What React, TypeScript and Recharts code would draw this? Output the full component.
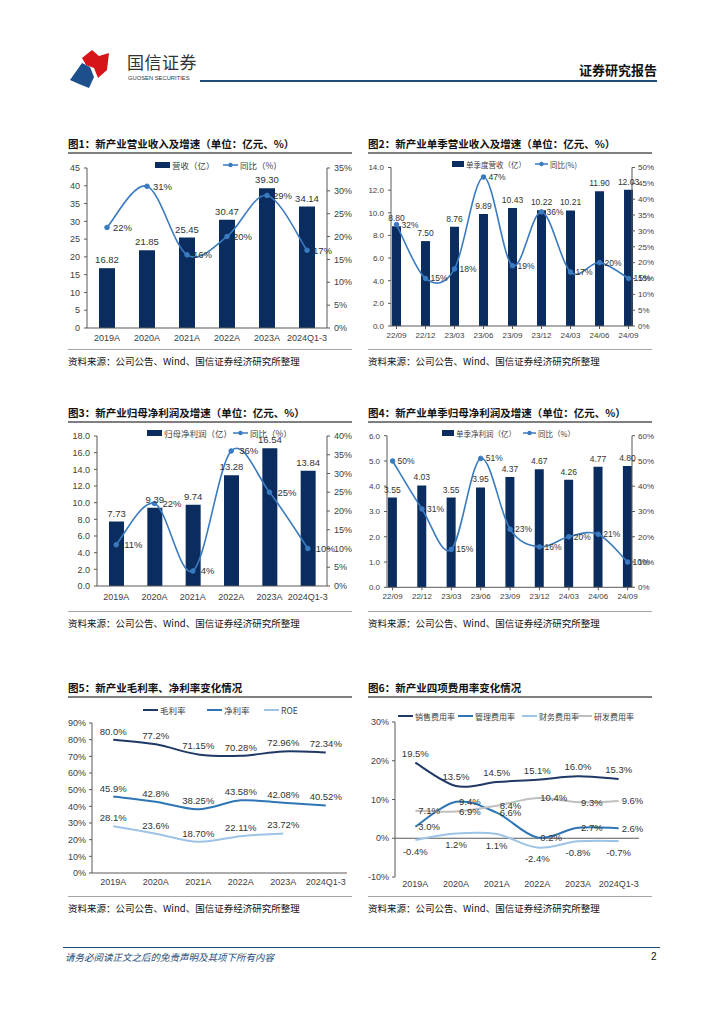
import React from "react";
import {
  ComposedChart,
  Bar,
  Line,
  XAxis,
  YAxis,
  LabelList,
  Legend,
  ReferenceLine,
} from "recharts";

// ---- data ----
const years = ["2019A", "2020A", "2021A", "2022A", "2023A", "2024Q1-3"];
const quarters = ["22/09", "22/12", "23/03", "23/06", "23/09", "23/12", "24/03", "24/06", "24/09"];

// 图1 营收
const revenue = [16.82, 21.85, 25.45, 30.47, 39.3, 34.14];
const revenueYoy = [22, 31, 16, 20, 29, 17];
// 图2 单季营收
const qRevenue = [8.8, 7.5, 8.76, 9.89, 10.43, 10.22, 10.21, 11.9, 12.03];
const qRevenueYoy = [32, 15, 18, 47, 19, 36, 17, 20, 15];
// 图3 归母净利润
const netProfit = [7.73, 9.39, 9.74, 13.28, 16.54, 13.84];
const netProfitYoy = [11, 22, 4, 36, 25, 10];
// 图4 单季归母净利润
const qProfit = [3.55, 4.03, 3.55, 3.95, 4.37, 4.67, 4.26, 4.77, 4.8];
const qProfitYoy = [50, 31, 15, 51, 23, 16, 20, 21, 10];
// 图5 毛利率 / 净利率 / ROE (as printed)
const grossMargin = ["80.0", "77.2", "71.15", "70.28", "72.96", "72.34"];
const netMargin = ["45.9", "42.8", "38.25", "43.58", "42.08", "40.52"];
const roe = ["28.1", "23.6", "18.70", "22.11", "23.72", null];
// 图6 四项费用率
const sellingRate = ["19.5", "13.5", "14.5", "15.1", "16.0", "15.3"];
const adminRate = ["3.0", "9.4", "6.6", "0.2", "2.7", "2.6"];
const financeRate = ["-0.4", "1.2", "1.1", "-2.4", "-0.8", "-0.7"];
const rdRate = ["7.1", "6.9", "8.4", "10.4", "9.3", "9.6"];

// axis ticks
const ticks45 = [0, 5, 10, 15, 20, 25, 30, 35, 40, 45];
const ticks35 = [0, 5, 10, 15, 20, 25, 30, 35];
const ticks14 = [0, 2, 4, 6, 8, 10, 12, 14];
const ticks50 = [0, 5, 10, 15, 20, 25, 30, 35, 40, 45, 50];
const ticks18 = [0, 2, 4, 6, 8, 10, 12, 14, 16, 18];
const ticks40 = [0, 5, 10, 15, 20, 25, 30, 35, 40];
const ticks6 = [0, 1, 2, 3, 4, 5, 6];
const ticks60 = [0, 10, 20, 30, 40, 50, 60];
const ticks90 = [0, 10, 20, 30, 40, 50, 60, 70, 80, 90];
const ticksFee = [-10, 0, 10, 20, 30];
const quarterTicks = quarters.map((_, i) => i);

const chart1Data = years.map((cat, i) => ({ cat, value: revenue[i], yoy: revenueYoy[i] }));
const chart2Data = quarters.map((cat, i) => ({ i, cat, value: qRevenue[i], yoy: qRevenueYoy[i] }));
const chart3Data = years.map((cat, i) => ({ cat, value: netProfit[i], yoy: netProfitYoy[i] }));
const chart4Data = quarters.map((cat, i) => ({ i, cat, value: qProfit[i], yoy: qProfitYoy[i] }));
const num = (s: string | null) => (s == null ? null : Number(s));
const chart5Data = years.map((cat, i) => ({
  cat,
  gross: num(grossMargin[i]), grossL: grossMargin[i],
  net: num(netMargin[i]), netL: netMargin[i],
  roe: num(roe[i]), roeL: roe[i],
}));
const chart6Data = years.map((cat, i) => ({
  cat,
  sell: num(sellingRate[i]), sellL: sellingRate[i],
  admin: num(adminRate[i]), adminL: adminRate[i],
  fin: num(financeRate[i]), finL: financeRate[i],
  rd: num(rdRate[i]), rdL: rdRate[i],
}));

// ---- styles ----
const NAVY = "#0b2c5f";
const BLUE = "#3a7bc0";
const AXIS = "#595959";
const TXT = "#404040";
const NUM_FONT = "'Liberation Sans', Arial, sans-serif";
const CJK_FONT = "'Noto Sans CJK SC', 'Noto Sans', sans-serif";

const tick9 = { fontSize: 9, fill: TXT, fontFamily: NUM_FONT };
const tick8 = { fontSize: 8, fill: TXT, fontFamily: NUM_FONT };
const axisStroke = { stroke: AXIS, strokeWidth: 1 };
const lbl9 = { fill: "#333", fontSize: 9.5, fontFamily: NUM_FONT };
const lbl8 = { fill: "#333", fontSize: 8.5, fontFamily: NUM_FONT };
const dotStyle = { r: 2.3, fill: BLUE, stroke: BLUE, strokeWidth: 1 };

const pct = (v: any) => (v == null ? "" : `${v}%`);
const fix1 = (v: any) => Number(v).toFixed(1);
const fix2 = (v: any) => (v == null ? "" : Number(v).toFixed(2));

// Excel style smoothed line (Catmull-Rom through the points)
function excelCurve(context: any) {
  let pts: number[][] = [];
  return {
    areaStart() {},
    areaEnd() {},
    lineStart() {
      pts = [];
    },
    point(x: number, y: number) {
      pts.push([+x, +y]);
    },
    lineEnd() {
      const n = pts.length;
      if (!n) return;
      context.moveTo(pts[0][0], pts[0][1]);
      for (let i = 0; i < n - 1; i++) {
        const p0 = pts[i === 0 ? 0 : i - 1];
        const p1 = pts[i];
        const p2 = pts[i + 1];
        const p3 = pts[i + 2 < n ? i + 2 : n - 1];
        context.bezierCurveTo(
          p1[0] + (p2[0] - p0[0]) / 6,
          p1[1] + (p2[1] - p0[1]) / 6,
          p2[0] - (p3[0] - p1[0]) / 6,
          p2[1] - (p3[1] - p1[1]) / 6,
          p2[0],
          p2[1]
        );
      }
    },
  };
}

type LegendItem = { label: string; kind: "bar" | "dotline" | "line"; color: string; x: number; sw?: number };

function LegendRow({ items, fontSize = 8.5 }: { items: LegendItem[]; fontSize?: number }) {
  return (
    <div style={{ position: "relative", height: 14 }}>
      {items.map((it) => {
        const w = it.sw ?? 15;
        let swatch;
        if (it.kind === "bar") swatch = <div style={{ width: w, height: 6, background: it.color }} />;
        else if (it.kind === "line") swatch = <div style={{ width: w, height: 2, background: it.color }} />;
        else
          swatch = (
            <svg width={w} height={6}>
              <line x1={0} y1={3} x2={w} y2={3} stroke={it.color} strokeWidth={1.5} />
              <circle cx={w / 2} cy={3} r={2.2} fill={it.color} />
            </svg>
          );
        return (
          <div
            key={it.label}
            style={{
              position: "absolute", left: it.x, top: 0, height: 14, display: "flex", alignItems: "center",
              whiteSpace: "nowrap", fontSize, fontFamily: CJK_FONT, color: TXT,
            }}
          >
            {swatch}
            <span style={{ marginLeft: 2 }}>{it.label}</span>
          </div>
        );
      })}
    </div>
  );
}

function legendAt(items: LegendItem[], centerY: number, fontSize?: number) {
  return (
    <Legend
      verticalAlign="middle"
      align="center"
      layout="horizontal"
      wrapperStyle={{ left: 0, top: centerY - 7, width: 300, height: 14 }}
      content={() => <LegendRow items={items} fontSize={fontSize} />}
    />
  );
}

// ---- charts ----
function Chart1() {
  return (
    <ComposedChart width={300} height={205} data={chart1Data} margin={{ top: 18, right: 0, bottom: 7, left: 0 }}>
      <XAxis dataKey="cat" interval={0} height={20} tick={tick9} tickLine={false} tickSize={4} tickMargin={3} axisLine={axisStroke} />
      <YAxis yAxisId="l" width={27} domain={[0, 45]} ticks={ticks45} tick={tick9} tickSize={3} tickMargin={4} axisLine={axisStroke} tickLine={axisStroke} />
      <YAxis yAxisId="r" orientation="right" width={33} domain={[0, 35]} ticks={ticks35} tickFormatter={pct} tick={tick9} tickSize={3} tickMargin={4} axisLine={axisStroke} tickLine={axisStroke} />
      {legendAt(
        [
          { label: "营收（亿）", kind: "bar", color: NAVY, x: 95 },
          { label: "同比（%）", kind: "dotline", color: BLUE, x: 163 },
        ],
        15
      )}
      <Bar yAxisId="l" dataKey="value" fill={NAVY} barSize={16} isAnimationActive={false}>
        <LabelList dataKey="value" position="top" offset={5} formatter={fix2} {...lbl9} />
      </Bar>
      <Line yAxisId="r" dataKey="yoy" type={excelCurve as any} stroke={BLUE} strokeWidth={1.6} dot={dotStyle} activeDot={false} isAnimationActive={false}>
        <LabelList dataKey="yoy" position="right" offset={6} formatter={pct} {...lbl9} />
      </Line>
    </ComposedChart>
  );
}

function Chart2() {
  return (
    <ComposedChart width={300} height={205} data={chart2Data} margin={{ top: 17.5, right: 0, bottom: 9, left: 0 }}>
      <XAxis type="number" dataKey="i" domain={[-0.19, 8.12]} ticks={quarterTicks} tickFormatter={(v: any) => quarters[v]} interval={0} height={20} tick={tick8} tickSize={3} tickMargin={3} axisLine={axisStroke} tickLine={axisStroke} />
      <YAxis yAxisId="l" width={31} domain={[0, 14]} ticks={ticks14} tickFormatter={fix1} tick={tick8} tickSize={3} tickMargin={4} axisLine={axisStroke} tickLine={axisStroke} />
      <YAxis yAxisId="r" orientation="right" width={28} domain={[0, 50]} ticks={ticks50} tickFormatter={pct} tick={tick8} tickSize={3} tickMargin={3} axisLine={axisStroke} tickLine={axisStroke} />
      {legendAt(
        [
          { label: "单季度营收（亿）", kind: "bar", color: NAVY, x: 92, sw: 12 },
          { label: "同比(%)", kind: "dotline", color: BLUE, x: 175, sw: 13 },
        ],
        14,
        7.5
      )}
      <Bar yAxisId="l" dataKey="value" fill={NAVY} barSize={9} isAnimationActive={false}>
        <LabelList dataKey="value" position="top" offset={5} formatter={fix2} {...lbl8} />
      </Bar>
      <Line yAxisId="r" dataKey="yoy" type={excelCurve as any} stroke={BLUE} strokeWidth={1.6} dot={dotStyle} activeDot={false} isAnimationActive={false}>
        <LabelList dataKey="yoy" position="right" offset={5} formatter={pct} {...lbl8} />
      </Line>
    </ComposedChart>
  );
}

function Chart3() {
  return (
    <ComposedChart width={300} height={195} data={chart3Data} margin={{ top: 16, right: 0, bottom: 9, left: 0 }}>
      <XAxis dataKey="cat" interval={0} height={20} tick={tick9} tickLine={false} tickSize={4} tickMargin={3.5} axisLine={axisStroke} />
      <YAxis yAxisId="l" width={37} domain={[0, 18]} ticks={ticks18} tickFormatter={fix1} tick={tick9} tickSize={3} tickMargin={4} axisLine={axisStroke} tickLine={axisStroke} />
      <YAxis yAxisId="r" orientation="right" width={33} domain={[0, 40]} ticks={ticks40} tickFormatter={pct} tick={tick9} tickSize={3} tickMargin={4} axisLine={axisStroke} tickLine={axisStroke} />
      {legendAt(
        [
          { label: "归母净利润（亿）", kind: "bar", color: NAVY, x: 87 },
          { label: "同比（%）", kind: "dotline", color: BLUE, x: 173 },
        ],
        13
      )}
      <Bar yAxisId="l" dataKey="value" fill={NAVY} barSize={15} isAnimationActive={false}>
        <LabelList dataKey="value" position="top" offset={5} formatter={fix2} {...lbl9} />
      </Bar>
      <Line yAxisId="r" dataKey="yoy" type={excelCurve as any} stroke={BLUE} strokeWidth={1.6} dot={dotStyle} activeDot={false} isAnimationActive={false}>
        <LabelList dataKey="yoy" position="right" offset={8} formatter={pct} {...lbl9} />
      </Line>
    </ComposedChart>
  );
}

function Chart4() {
  return (
    <ComposedChart width={300} height={195} data={chart4Data} margin={{ top: 15.7, right: 0, bottom: 7.7, left: 0 }}>
      <XAxis type="number" dataKey="i" domain={[-0.19, 8.15]} ticks={quarterTicks} tickFormatter={(v: any) => quarters[v]} interval={0} height={20} tick={tick8} tickSize={3} tickMargin={3} axisLine={axisStroke} tickLine={axisStroke} />
      <YAxis yAxisId="l" width={27} domain={[0, 6]} ticks={ticks6} tickFormatter={fix1} tick={tick8} tickSize={3} tickMargin={4} axisLine={axisStroke} tickLine={axisStroke} />
      <YAxis yAxisId="r" orientation="right" width={28} domain={[0, 60]} ticks={ticks60} tickFormatter={pct} tick={tick8} tickSize={3} tickMargin={3} axisLine={axisStroke} tickLine={axisStroke} />
      {legendAt(
        [
          { label: "单季净利润（亿）", kind: "bar", color: NAVY, x: 82, sw: 12 },
          { label: "同比（%）", kind: "dotline", color: BLUE, x: 163, sw: 13 },
        ],
        13,
        7.5
      )}
      <Bar yAxisId="l" dataKey="value" fill={NAVY} barSize={9} isAnimationActive={false}>
        <LabelList dataKey="value" position="top" offset={5} formatter={fix2} {...lbl8} />
      </Bar>
      <Line yAxisId="r" dataKey="yoy" type={excelCurve as any} stroke={BLUE} strokeWidth={1.6} dot={dotStyle} activeDot={false} isAnimationActive={false}>
        <LabelList dataKey="yoy" position="right" offset={5} formatter={pct} {...lbl8} />
      </Line>
    </ComposedChart>
  );
}

const G1 = "#1f3864";
const G2 = "#2e75b6";
const G3 = "#9dc3e6";
const G4 = "#bfbfbf";

function Chart5() {
  return (
    <ComposedChart width={300} height={195} data={chart5Data} margin={{ top: 23, right: 13, bottom: 2, left: 0 }}>
      <XAxis dataKey="cat" scale="band" interval={0} height={20} tick={tick9} tickLine={false} tickSize={4} tickMargin={2} axisLine={axisStroke} />
      <YAxis width={32} domain={[0, 90]} ticks={ticks90} tickFormatter={pct} tick={tick9} tickSize={3} tickMargin={3} axisLine={axisStroke} tickLine={axisStroke} />
      {legendAt(
        [
          { label: "毛利率", kind: "line", color: G1, x: 83 },
          { label: "净利率", kind: "line", color: G2, x: 147 },
          { label: "ROE", kind: "line", color: G3, x: 204 },
        ],
        10
      )}
      <Line dataKey="gross" type={excelCurve as any} stroke={G1} strokeWidth={2} dot={false} activeDot={false} isAnimationActive={false}>
        <LabelList dataKey="grossL" position="top" offset={5} formatter={pct} {...lbl9} />
      </Line>
      <Line dataKey="net" type={excelCurve as any} stroke={G2} strokeWidth={2} dot={false} activeDot={false} isAnimationActive={false}>
        <LabelList dataKey="netL" position="top" offset={5} formatter={pct} {...lbl9} />
      </Line>
      <Line dataKey="roe" type={excelCurve as any} stroke={G3} strokeWidth={2} dot={false} activeDot={false} isAnimationActive={false}>
        <LabelList dataKey="roeL" position="top" offset={5} formatter={pct} {...lbl9} />
      </Line>
    </ComposedChart>
  );
}

function Chart6() {
  return (
    <ComposedChart width={300} height={195} data={chart6Data} margin={{ top: 22, right: 21, bottom: 2, left: 0 }}>
      <XAxis dataKey="cat" scale="band" interval={0} height={16} tick={tick9} tickLine={false} axisLine={false} tickSize={0} tickMargin={4} />
      <YAxis width={35} domain={[-10, 30]} ticks={ticksFee} tickFormatter={pct} tick={tick9} tickSize={3} tickMargin={3} axisLine={axisStroke} tickLine={axisStroke} />
      <ReferenceLine y={0} stroke={AXIS} strokeWidth={1} />
      {legendAt(
        [
          { label: "销售费用率", kind: "line", color: G1, x: 38 },
          { label: "管理费用率", kind: "line", color: G2, x: 98 },
          { label: "财务费用率", kind: "line", color: G3, x: 162 },
          { label: "研发费用率", kind: "line", color: G4, x: 217 },
        ],
        16,
        8
      )}
      <Line dataKey="sell" type={excelCurve as any} stroke={G1} strokeWidth={2} dot={false} activeDot={false} isAnimationActive={false}>
        <LabelList dataKey="sellL" position="top" offset={6} formatter={pct} {...lbl9} />
      </Line>
      <Line dataKey="admin" type={excelCurve as any} stroke={G2} strokeWidth={2} dot={false} activeDot={false} isAnimationActive={false}>
        <LabelList dataKey="adminL" position="right" offset={3} formatter={pct} {...lbl9} />
      </Line>
      <Line dataKey="fin" type={excelCurve as any} stroke={G3} strokeWidth={2} dot={false} activeDot={false} isAnimationActive={false}>
        <LabelList dataKey="finL" position="bottom" offset={8} formatter={pct} {...lbl9} />
      </Line>
      <Line dataKey="rd" type={excelCurve as any} stroke={G4} strokeWidth={2} dot={false} activeDot={false} isAnimationActive={false}>
        <LabelList dataKey="rdL" position="right" offset={3} formatter={pct} {...lbl9} />
      </Line>
    </ComposedChart>
  );
}

// ---- page pieces ----
function Rule({ x, y, w, h, color }: { x: number; y: number; w: number; h: number; color: string }) {
  return <div style={{ position: "absolute", left: x, top: y, width: w, height: h, background: color }} />;
}

function Text({ x, y, size, children, style }: { x: number; y: number; size: number; children: any; style?: any }) {
  return (
    <div
      style={{
        position: "absolute", left: x, top: y - 10, height: 20, lineHeight: "20px", fontSize: size,
        fontFamily: CJK_FONT, color: "#111", whiteSpace: "nowrap", ...style,
      }}
    >
      {children}
    </div>
  );
}

const SOURCE = "资料来源：公司公告、Wind、国信证券经济研究所整理";

function Panel({ x, titleY, bottomY, title, chartTop, children }: any) {
  return (
    <>
      <Text x={x} y={titleY} size={10.5} style={{ fontWeight: 700 }}>{title}</Text>
      <Rule x={x} y={titleY + 8} w={284} h={2} color="#7f7f7f" />
      <div style={{ position: "absolute", left: x - 8, top: chartTop }}>{children}</div>
      <Rule x={x} y={bottomY} w={284} h={1} color="#a6a6a6" />
      <Text x={x} y={bottomY + 12} size={9.5}>{SOURCE}</Text>
    </>
  );
}

function Header() {
  return (
    <>
      <svg style={{ position: "absolute", left: 68, top: 46 }} width={44} height={44}>
        <path d="M14 12 L24 4 L31 10 L41 7 L39 24 L30 32 L26 22 L18 19 Z" fill="#d7141a" />
        <path d="M2 34 L14 17 L22 21 L26 31 L21 42 L11 38 Z" fill="#1c4f8c" />
      </svg>
      <Text x={127} y={62} size={17} style={{ color: "#333", letterSpacing: 0.5 }}>国信证券</Text>
      <Text x={128} y={78} size={5.8} style={{ color: "#333", fontFamily: NUM_FONT }}>GUOSEN SECURITIES</Text>
      <Rule x={200} y={80} w={457} h={2} color="#1f4e79" />
      <Text x={579} y={70} size={13} style={{ fontWeight: 700, color: "#111" }}>证券研究报告</Text>
    </>
  );
}

export default function App() {
  return (
    <div style={{ position: "absolute", left: 0, top: 0, width: 724, height: 1024, background: "#fff", overflow: "hidden" }}>
      <Header />

      <Panel x={68} titleY={144} bottomY={349} chartTop={150} title="图1：新产业营业收入及增速（单位：亿元、%）">
        <Chart1 />
      </Panel>
      <Panel x={368} titleY={144} bottomY={349} chartTop={150} title="图2：新产业单季营业收入及增速（单位：亿元、%）">
        <Chart2 />
      </Panel>
      <Panel x={68} titleY={413} bottomY={611} chartTop={420} title="图3：新产业归母净利润及增速（单位：亿元、%）">
        <Chart3 />
      </Panel>
      <Panel x={368} titleY={413} bottomY={611} chartTop={420} title="图4：新产业单季归母净利润及增速（单位：亿元、%）">
        <Chart4 />
      </Panel>
      <Panel x={68} titleY={688} bottomY={896} chartTop={700} title="图5：新产业毛利率、净利率变化情况">
        <Chart5 />
      </Panel>
      <Panel x={368} titleY={688} bottomY={896} chartTop={700} title="图6：新产业四项费用率变化情况">
        <Chart6 />
      </Panel>

      <Rule x={63} y={947} w={597} h={1} color="#1f4e79" />
      <Text x={65} y={957} size={9.5} style={{ fontStyle: "italic", color: "#1f4e79" }}>
        请务必阅读正文之后的免责声明及其项下所有内容
      </Text>
      <Text x={651} y={957} size={10} style={{ fontFamily: NUM_FONT, color: "#111" }}>2</Text>
    </div>
  );
}
